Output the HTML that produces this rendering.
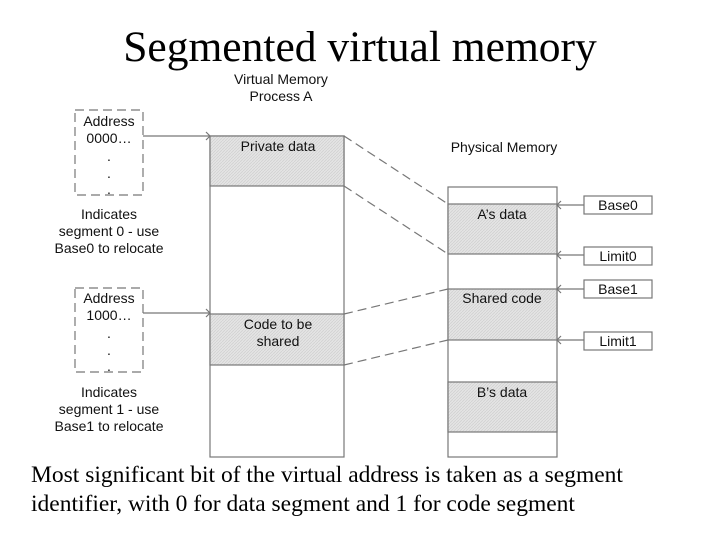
<!DOCTYPE html>
<html><head><style>
body{margin:0;background:#fff;width:720px;height:540px;overflow:hidden}
svg{display:block}
.s{font-family:"Liberation Sans",sans-serif;font-size:14px;fill:#111}
.t{font-family:"Liberation Serif",serif;fill:#000}
</style></head><body>
<svg width="720" height="540" viewBox="0 0 720 540">
<defs>
<pattern id="h" width="3" height="3" patternUnits="userSpaceOnUse"><rect width="3" height="3" fill="#e4e4e4"/><path d="M0 3L3 0" stroke="#cfcfcf" stroke-width="0.7"/></pattern>
</defs>
<text class="t" x="360" y="61" font-size="43.5" text-anchor="middle">Segmented virtual memory</text>
<text class="s" x="281" y="84" text-anchor="middle">Virtual Memory</text>
<text class="s" x="281" y="101" text-anchor="middle">Process A</text>
<text class="s" x="504" y="152" text-anchor="middle">Physical Memory</text>
<g stroke="#777" stroke-width="1.2" fill="none">
<rect x="210" y="136" width="134" height="321" fill="#fff"/>
<rect x="210" y="136" width="134" height="50" fill="url(#h)"/>
<rect x="210" y="314" width="134" height="51" fill="url(#h)"/>
<rect x="448" y="187" width="109" height="270" fill="#fff"/>
<rect x="448" y="204" width="109" height="50" fill="url(#h)"/>
<rect x="448" y="289" width="109" height="51" fill="url(#h)"/>
<rect x="448" y="382" width="109" height="50" fill="url(#h)"/>
<rect x="584" y="196" width="68" height="18"/>
<rect x="584" y="247" width="68" height="18"/>
<rect x="584" y="280" width="68" height="18"/>
<rect x="584" y="332" width="68" height="18"/>
<path d="M584 205H557M584 255H557M584 289H557M584 340H557M143 136H210M143 313H210"/>
<path d="M561 201L557 205L561 209M561 251L557 255L561 259M561 285L557 289L561 293M561 336L557 340L561 344M206 132L210 136L206 140M206 309L210 313L206 317"/>
<g stroke-dasharray="9,5">
<path d="M344 136L448 204M344 186L448 254M344 314L448 289M344 365L448 340"/>
<rect x="75" y="110" width="68" height="85"/>
<rect x="75" y="288" width="68" height="84"/>
</g>
</g>
<g class="s" text-anchor="middle">
<text x="109" y="126">Address</text><text x="109" y="143">0000…</text>
<text x="109" y="161">.</text><text x="109" y="178">.</text><text x="109" y="194">.</text>
<text x="109" y="219">Indicates</text><text x="109" y="236">segment 0 - use</text><text x="109" y="253">Base0 to relocate</text>
<text x="109" y="303">Address</text><text x="109" y="320">1000…</text>
<text x="109" y="338">.</text><text x="109" y="355">.</text><text x="109" y="371">.</text>
<text x="109" y="397">Indicates</text><text x="109" y="414">segment 1 - use</text><text x="109" y="431">Base1 to relocate</text>
<text x="278" y="151">Private data</text>
<text x="278" y="329">Code to be</text><text x="278" y="346">shared</text>
<text x="502" y="219">A’s data</text>
<text x="502" y="303">Shared code</text>
<text x="502" y="397">B’s data</text>
<text x="618" y="210">Base0</text><text x="618" y="261">Limit0</text>
<text x="618" y="294">Base1</text><text x="618" y="346">Limit1</text>
</g>
<text class="t" x="31" y="482" font-size="23.5">Most significant bit of the virtual address is taken as a segment</text>
<text class="t" x="31" y="511" font-size="23.5">identifier, with 0 for data segment and 1 for code segment</text>
</svg>
</body></html>
